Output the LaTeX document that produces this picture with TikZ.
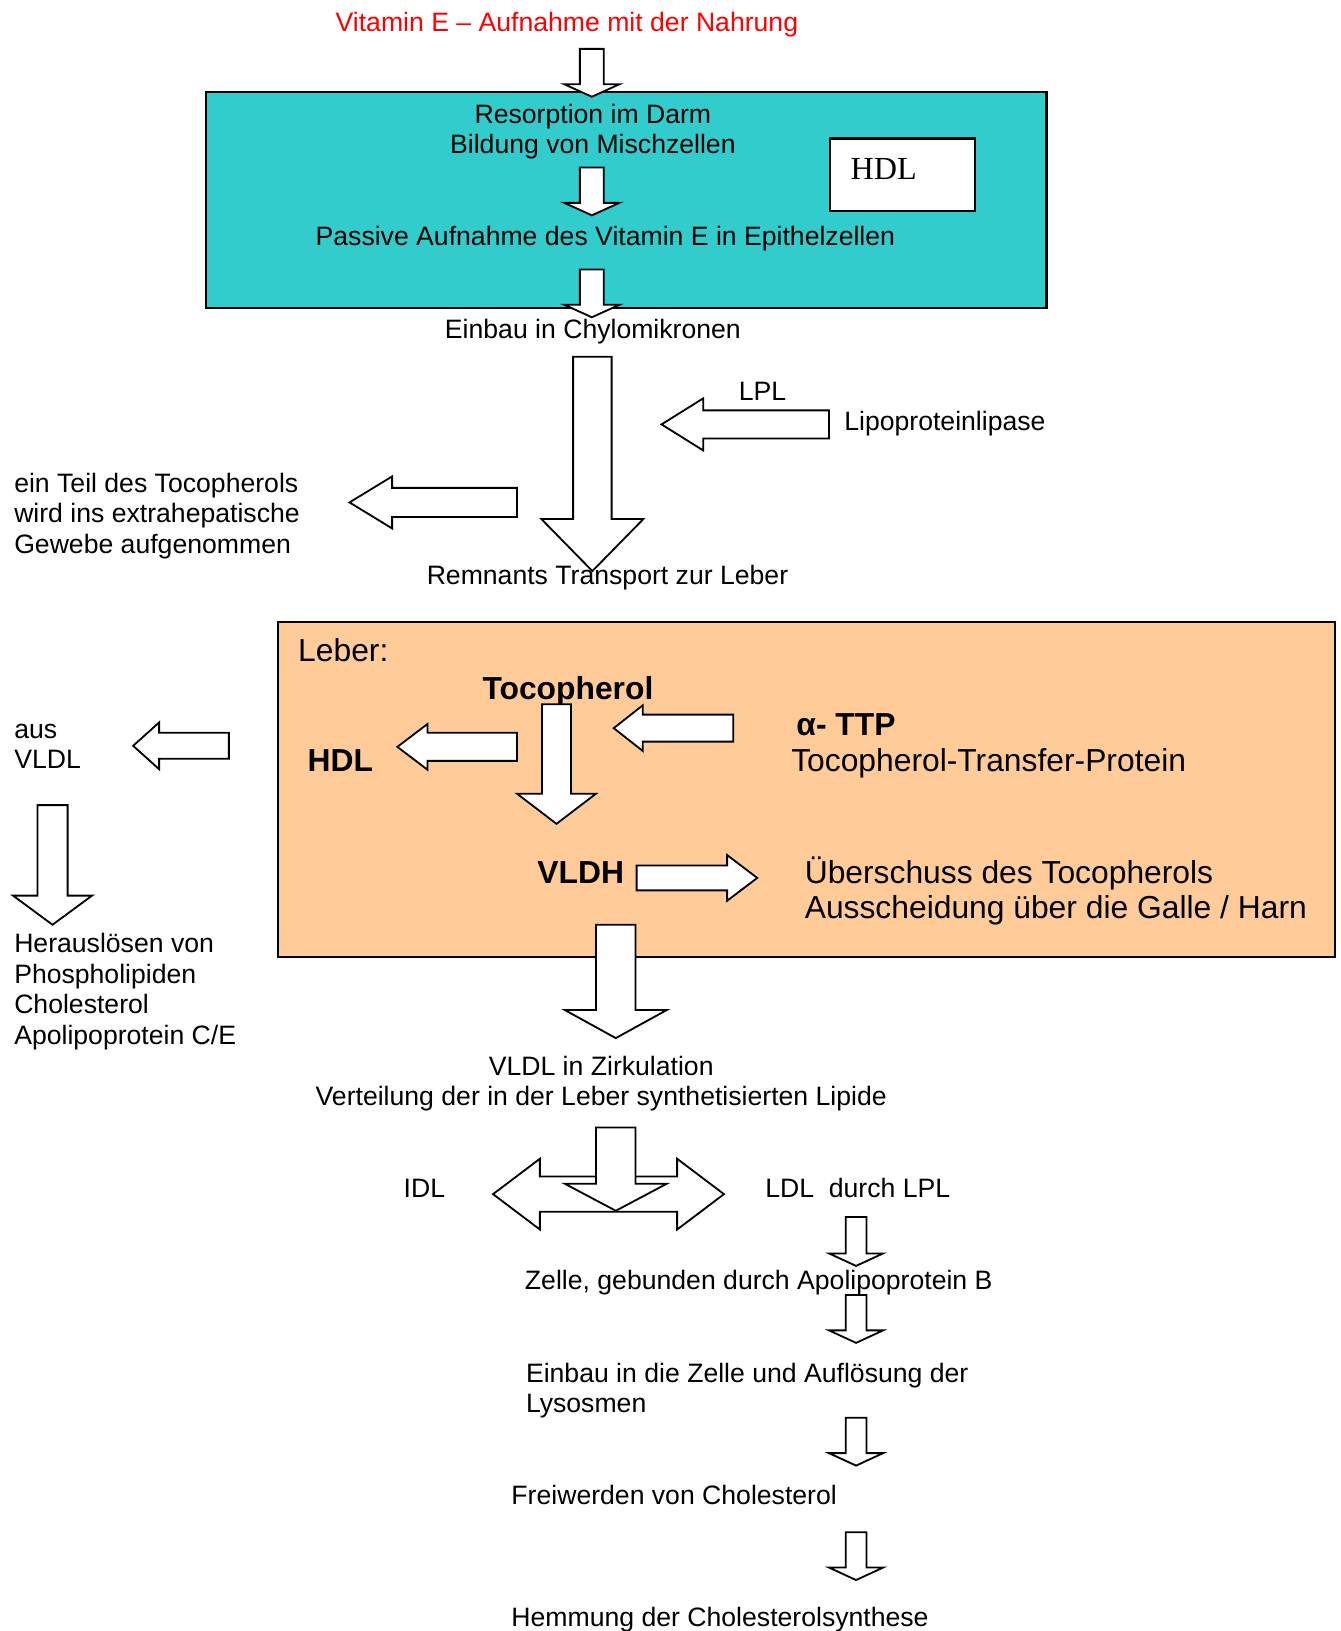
\documentclass[tikz,border=0pt]{standalone}
\usepackage{fontspec}
\setmainfont{Liberation Sans}
\newfontfamily\seriffont{Liberation Serif}
\usepackage{xcolor}
\usepackage{tikz}

\definecolor{darmteal}{HTML}{33CCCC}
\definecolor{leberpeach}{HTML}{FFCC99}

\tikzset{
  blk/.style={draw=black, fill=white, line width=0.5pt, line join=miter},
  box/.style={draw=black, line width=0.6pt, anchor=north west, inner sep=0pt},
  txt/.style={inner sep=0pt, font=\fontsize{7.28}{8.35}\selectfont, align=left},
  bigtxt/.style={inner sep=0pt, font=\fontsize{8.7}{9.67}\selectfont, align=left},
  bigbold/.style={bigtxt, font=\fontsize{8.7}{9.67}\selectfont\bfseries}
}

% block arrow pointing down: x, top, head base, tip, shaft width, head width
\newcommand{\downblk}[6]{%
  \draw[blk] ({#1-#5/2},#2) -- ({#1+#5/2},#2) -- ({#1+#5/2},#3) -- ({#1+#6/2},#3)
    -- (#1,#4) -- ({#1-#6/2},#3) -- ({#1-#5/2},#3) -- cycle;}
% block arrow sideways: y, tail, head base, tip, shaft width, head width
\newcommand{\sideblk}[6]{%
  \draw[blk] (#2,{#1-#5/2}) -- (#3,{#1-#5/2}) -- (#3,{#1-#6/2}) -- (#4,#1)
    -- (#3,{#1+#6/2}) -- (#3,{#1+#5/2}) -- (#2,{#1+#5/2}) -- cycle;}

\begin{document}
\begin{tikzpicture}[x=0.1mm, y=-0.1mm]
  \useasboundingbox (0,0) rectangle (1289,1568);

  % Title
  \node[txt, anchor=base, text=red] (title) at (545,30) {Vitamin E -- Aufnahme mit der Nahrung};

  % Darm box
  \node[box, fill=darmteal, minimum width=80.8mm, minimum height=20.8mm] (darm) at (197,87) {};
  \node[box, fill=white, minimum width=13.9mm, minimum height=7mm] (hdlbox) at (797,132) {};
  \node[inner sep=0pt, anchor=base west, font=\seriffont\fontsize{8.8}{10}\selectfont] (hdltxt) at (817,173) {HDL};
  \node[txt, anchor=base, align=center] (resorp) at (570,148) {Resorption im Darm\\Bildung von Mischzellen};
  \node[txt, anchor=base] (passiv) at (582,236) {Passive Aufnahme des Vitamin E in Epithelzellen};

  \downblk{569}{47}{81}{93}{23}{53}
  \downblk{569}{161}{195}{207}{23}{53}
  \downblk{569}{259}{293}{305}{23}{53}

  \node[txt, anchor=base] (chylo) at (570,325) {Einbau in Chylomikronen};

  % Chylomikronen to remnants
  \downblk{569.5}{343}{499}{549}{37}{98}
  \node[txt, anchor=base] (lpl) at (733,385) {LPL};
  \node[txt, anchor=base west] (lipase) at (811,414) {Lipoproteinlipase};
  \sideblk{408}{797}{676}{636}{27}{50}
  \sideblk{483}{497}{377}{336}{28}{50}
  \node[txt, anchor=base west] (gewebe) at (13,532) {ein Teil des Tocopherols\\wird ins extrahepatische\\Gewebe aufgenommen};
  \node[txt, anchor=base] (remnants) at (584,562) {Remnants Transport zur Leber};

  % Leber box
  \node[box, fill=leberpeach, minimum width=101.6mm, minimum height=32.2mm] (leber) at (266,597) {};
  \node[bigtxt, anchor=base west] (lebertxt) at (286,636) {Leber:};
  \node[bigbold, anchor=base] (toco) at (546,672) {Tocopherol};
  \node[bigbold, anchor=base west] (hdl) at (295,742) {HDL};
  \node[bigbold, anchor=base west] (ttp) at (765,707) {α- TTP};
  \node[bigtxt, anchor=base west] (ttpname) at (760,742) {Tocopherol-Transfer-Protein};
  \node[bigbold, anchor=base west] (vldh) at (516,849) {VLDH};
  \node[bigtxt, anchor=base west] (galle) at (773,883) {Überschuss des Tocopherols\\Ausscheidung über die Galle / Harn};
  \downblk{535}{677}{763}{792}{28}{76}
  \sideblk{718}{497}{411}{382}{27}{44}
  \sideblk{700}{705}{618}{590}{26}{44}
  \sideblk{844}{612}{699}{728}{24}{44}
  \downblk{592}{889}{971}{998}{38}{98}

  % left branch
  \node[txt, anchor=base west] (ausvldl) at (13,739) {aus\\VLDL};
  \sideblk{717}{220}{153}{128}{25}{45}
  \downblk{50.5}{774}{861}{889}{29}{76}
  \node[txt, anchor=base west] (heraus) at (13,1004) {Herauslösen von\\Phospholipiden\\Cholesterol\\Apolipoprotein C/E};

  % circulation
  \node[txt, anchor=base, align=center] (zirk) at (578,1063) {VLDL in Zirkulation\\Verteilung der in der Leber synthetisierten Lipide};

  % split into IDL / LDL
  \draw[blk] (474,1148) -- (519,1114) -- (519,1131) -- (651,1131) -- (651,1114) -- (696,1148)
    -- (651,1182) -- (651,1165) -- (519,1165) -- (519,1182) -- cycle;
  \downblk{592}{1084}{1138}{1164}{38}{98}
  \node[txt, anchor=base] (idl) at (408,1151) {IDL};
  \node[txt, anchor=base west] (ldl) at (735,1151) {LDL\ \ durch LPL};

  % LDL pathway
  \downblk{823}{1170}{1205}{1217}{20}{52}
  \node[txt, anchor=base west] (zelle) at (504,1240) {Zelle, gebunden durch Apolipoprotein B};
  \downblk{823}{1245}{1279}{1291}{20}{52}
  \node[txt, anchor=base west] (einbau) at (505,1358) {Einbau in die Zelle und Auflösung der\\Lysosmen};
  \downblk{823}{1363}{1397}{1409}{20}{52}
  \node[txt, anchor=base west] (frei) at (491,1446) {Freiwerden von Cholesterol};
  \downblk{823}{1473}{1507}{1519}{20}{52}
  \node[txt, anchor=base west] (hemm) at (491,1564) {Hemmung der Cholesterolsynthese};
\end{tikzpicture}
\end{document}
